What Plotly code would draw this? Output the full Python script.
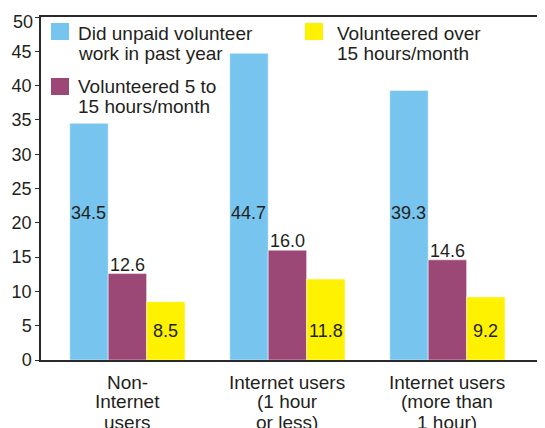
import plotly.graph_objects as go

categories = ["Non-Internet users", "Internet users (1 hour or less)", "Internet users (more than 1 hour)"]
category_lines = [["Non-", "Internet", "users"], ["Internet users", "(1 hour", "or less)"], ["Internet users", "(more than", "1 hour)"]]
series_names = ["Did unpaid volunteer work in past year", "Volunteered 5 to 15 hours/month", "Volunteered over 15 hours/month"]
legend_lines = [["Did unpaid volunteer", "work in past year"], ["Volunteered 5 to", "15 hours/month"], ["Volunteered over", "15 hours/month"]]
did_unpaid = [34.5, 44.7, 39.3]
vol_5_15 = [12.6, 16.0, 14.6]
vol_over_15 = [8.5, 11.8, 9.2]
y_ticks = [0, 5, 10, 15, 20, 25, 30, 35, 40, 45, 50]
y_ticktext = ["0", "5", "10", "15", "20", "25", "30", "35", "40", "45", ""]
top_tick_label = "50"

colors = ["#77C4EE", "#9B4876", "#FFF200"]
FONT = "Liberation Sans, Arial, Helvetica, sans-serif"
TXT = "#231F20"
LINE = "#2a2a2a"

# page body has an 8px margin; figure is sized to fill the rest of the window
OFF = 8
W, H = 545 - OFF, 428 - OFF
ml, mr, mt, mb = 33, 0, 9, 68
pw, ph = W - ml - mr, H - mt - mb

def px(X):
    return (X - OFF - ml) / pw

def py(Y):
    return 1 - (Y - OFF - mt) / ph

fig = go.Figure()
for name, vals, col in zip(series_names, [did_unpaid, vol_5_15, vol_over_15], colors):
    fig.add_bar(x=categories, y=vals, name=name,
                marker=dict(color=col, line=dict(color="rgba(255,255,255,0.6)", width=0.8)),
                showlegend=False)

ann = []
shift = 38.5
for c, v in zip(categories, did_unpaid):
    ann.append(dict(x=c, y=py(213), yref="paper", xshift=-shift, text=f"{v:.1f}", showarrow=False,
                    yanchor="middle", font=dict(size=18)))
for c, v in zip(categories, vol_5_15):
    ann.append(dict(x=c, y=v, xshift=0, text=f"{v:.1f}", showarrow=False, yanchor="bottom", yshift=-3,
                    font=dict(size=18)))
for c, v in zip(categories, vol_over_15):
    ann.append(dict(x=c, y=py(331), yref="paper", xshift=shift, text=f"{v:.1f}", showarrow=False,
                    yanchor="middle", font=dict(size=18)))

# top y tick label, nudged down to stay inside the picture as in the reference
ann.append(dict(xref="paper", yref="paper", x=px(35), y=py(22), text=top_tick_label, showarrow=False,
                xanchor="right", yanchor="middle", font=dict(size=18)))

# category labels, one annotation per line
for c, lines in zip(categories, category_lines):
    for i, line in enumerate(lines):
        ann.append(dict(x=c, y=py(382 + 20 * i), yref="paper", text=line, showarrow=False,
                        yanchor="middle", font=dict(size=19)))

# custom legend
shapes = []
legend_pos = [(51, 23, 76, 33), (51, 78, 76, 86), (305, 23, 335, 33)]
for (sx, sy, tx, ty), lines, col in zip(legend_pos, legend_lines, colors):
    shapes.append(dict(type="rect", xref="paper", yref="paper", x0=px(sx), x1=px(sx + 18),
                       y0=py(sy), y1=py(sy + 17), fillcolor=col, line=dict(width=0)))
    for i, line in enumerate(lines):
        ann.append(dict(xref="paper", yref="paper", x=px(tx), y=py(ty + 20 * i), text=line,
                        showarrow=False, xanchor="left", yanchor="middle", font=dict(size=19)))

fig.update_layout(
    width=W, height=H,
    margin=dict(l=ml, r=mr, t=mt, b=mb),
    paper_bgcolor="white", plot_bgcolor="white",
    barmode="group", bargap=0.28, bargroupgap=0,
    font=dict(family=FONT, size=18, color=TXT),
    annotations=ann, shapes=shapes,
    xaxis=dict(range=[-0.54, 2.61], showline=True, linecolor=LINE, linewidth=1.5, mirror=True,
               ticks="", showgrid=False, showticklabels=False),
    yaxis=dict(range=[0, 50], tickvals=y_ticks, ticktext=y_ticktext, showline=True, linecolor=LINE,
               linewidth=1.5, ticks="outside", ticklen=4, tickcolor=LINE, showgrid=False, zeroline=False,
               tickfont=dict(size=18, color=TXT)),
)
fig.write_html("out.html")
